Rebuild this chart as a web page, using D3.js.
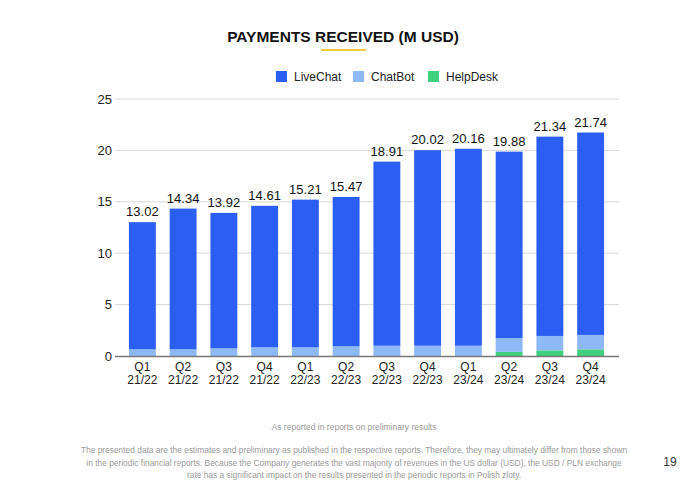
<!DOCTYPE html>
<html>
<head>
<meta charset="utf-8">
<script src="https://cdn.jsdelivr.net/npm/d3@7"></script>
<style>
  body { margin: 0; background: #fff; }
  svg { font-family: "Liberation Sans", Arial, sans-serif; }
</style>
</head>
<body>
<div id="chart"></div>
<script>
// Data
const quarters = ["Q1", "Q2", "Q3", "Q4", "Q1", "Q2", "Q3", "Q4", "Q1", "Q2", "Q3", "Q4"];
const years = ["21/22", "21/22", "21/22", "21/22", "22/23", "22/23", "22/23", "22/23", "23/24", "23/24", "23/24", "23/24"];
const totals = [13.02, 14.34, 13.92, 14.61, 15.21, 15.47, 18.91, 20.02, 20.16, 19.88, 21.34, 21.74];
const helpDesk = [0, 0, 0, 0, 0, 0, 0, 0, 0, 0.4, 0.55, 0.65];
const chatBot = [0.65, 0.65, 0.75, 0.85, 0.85, 0.95, 1.0, 1.0, 1.0, 1.35, 1.4, 1.4];
const yTicks = [0, 5, 10, 15, 20, 25];
const seriesNames = ["LiveChat", "ChatBot", "HelpDesk"];
const colors = { LiveChat: "#2b5ef2", ChatBot: "#8dbaf6", HelpDesk: "#3fd17e" };

const W = 680, H = 484;
const svg = d3.select("#chart").append("svg")
    .attr("width", W)
    .attr("height", H);

// rows for the stack (LiveChat is what remains of the total)
const rows = quarters.map((q, i) => ({
    key: i,
    HelpDesk: helpDesk[i],
    ChatBot: chatBot[i],
    LiveChat: totals[i] - chatBot[i] - helpDesk[i]
}));

const stack = d3.stack().keys(["HelpDesk", "ChatBot", "LiveChat"]);
const layers = stack(rows);

const x = d3.scaleBand()
    .domain(d3.range(quarters.length))
    .range([122, 611])
    .paddingInner(0.34)
    .paddingOuter(0.17);

const y = d3.scaleLinear()
    .domain([0, 25])
    .range([356, 99]);

// gridlines
svg.append("g")
    .selectAll("line")
    .data(yTicks.filter(d => d > 0))
    .enter().append("line")
    .attr("x1", 115)
    .attr("x2", 619)
    .attr("y1", d => y(d))
    .attr("y2", d => y(d))
    .attr("stroke", "#d9d9d9")
    .attr("stroke-width", 1);

// y axis labels
const yAxis = svg.append("g")
    .attr("transform", "translate(112,0)")
    .call(d3.axisLeft(y).tickValues(yTicks).tickSize(0).tickPadding(0));
yAxis.select(".domain").remove();
yAxis.selectAll("text")
    .attr("font-size", 13)
    .attr("fill", "#222")
    .style("font-family", "Liberation Sans, Arial, sans-serif");

// bars
svg.append("g")
    .selectAll("g")
    .data(layers)
    .enter().append("g")
    .attr("fill", d => colors[d.key])
    .selectAll("rect")
    .data(d => d)
    .enter().append("rect")
    .attr("x", (d, i) => x(i))
    .attr("width", x.bandwidth())
    .attr("y", d => y(d[1]))
    .attr("height", d => y(d[0]) - y(d[1]));

// baseline
svg.append("line")
    .attr("x1", 115)
    .attr("x2", 619)
    .attr("y1", y(0) + 0.5)
    .attr("y2", y(0) + 0.5)
    .attr("stroke", "#777")
    .attr("stroke-width", 1.5);

// total labels
svg.append("g")
    .selectAll("text")
    .data(totals)
    .enter().append("text")
    .attr("x", (d, i) => x(i) + x.bandwidth() / 2)
    .attr("y", d => y(d) - 6)
    .attr("text-anchor", "middle")
    .attr("font-size", 13)
    .attr("fill", "#111")
    .text(d => d.toFixed(2));

// x labels (two lines)
const xg = svg.append("g");
xg.selectAll(".q")
    .data(quarters)
    .enter().append("text")
    .attr("class", "q")
    .attr("x", (d, i) => x(i) + x.bandwidth() / 2)
    .attr("y", 371)
    .attr("text-anchor", "middle")
    .attr("font-size", 12)
    .attr("fill", "#222")
    .text(d => d);
xg.selectAll(".yr")
    .data(years)
    .enter().append("text")
    .attr("class", "yr")
    .attr("x", (d, i) => x(i) + x.bandwidth() / 2)
    .attr("y", 384)
    .attr("text-anchor", "middle")
    .attr("font-size", 12)
    .attr("fill", "#222")
    .text(d => d);

// title
svg.append("text")
    .attr("x", 343)
    .attr("y", 42)
    .attr("text-anchor", "middle")
    .attr("font-size", 15.5)
    .attr("font-weight", "bold")
    .attr("fill", "#111")
    .text("PAYMENTS RECEIVED (M USD)");

svg.append("line")
    .attr("x1", 321)
    .attr("x2", 366)
    .attr("y1", 50)
    .attr("y2", 50)
    .attr("stroke", "#f5c842")
    .attr("stroke-width", 2);

// legend
const legendX = [276, 353, 428];
const legend = svg.append("g")
    .selectAll("g")
    .data(seriesNames)
    .enter().append("g")
    .attr("transform", (d, i) => `translate(${legendX[i]},71)`);
legend.append("rect")
    .attr("width", 11)
    .attr("height", 11)
    .attr("fill", d => colors[d]);
legend.append("text")
    .attr("x", 18)
    .attr("y", 10)
    .attr("font-size", 12)
    .attr("fill", "#222")
    .text(d => d);

// footnotes
svg.append("text")
    .attr("x", 354)
    .attr("y", 430)
    .attr("text-anchor", "middle")
    .attr("font-size", 8.5)
    .attr("fill", "#999")
    .text("As reported in reports on preliminary results");

const notes = [
    "The presented data are the estimates and preliminary as published in the respective reports. Therefore, they may ultimately differ from those shown",
    "in the periodic financial reports. Because the Company generates the vast majority of revenues in the US dollar (USD), the USD / PLN exchange",
    "rate has a significant impact on the results presented in the periodic reports in Polish zloty."
];
svg.append("g")
    .selectAll("text")
    .data(notes)
    .enter().append("text")
    .attr("x", 354)
    .attr("y", (d, i) => 453 + i * 12.5)
    .attr("text-anchor", "middle")
    .attr("font-size", 8.4)
    .attr("fill", "#999")
    .text(d => d);

svg.append("text")
    .attr("x", 670)
    .attr("y", 466)
    .attr("text-anchor", "middle")
    .attr("font-size", 12)
    .attr("fill", "#333")
    .text("19");
</script>
</body>
</html>
